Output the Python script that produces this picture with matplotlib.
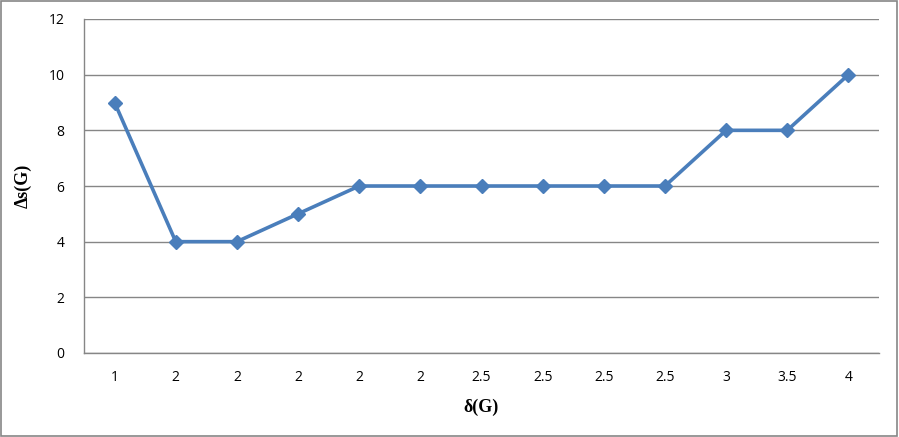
import matplotlib.pyplot as plt
from matplotlib.patches import Rectangle

delta_labels = ['1', '2', '2', '2', '2', '2', '2.5', '2.5', '2.5', '2.5', '3', '3.5', '4']
ds_values = [9, 4, 4, 5, 6, 6, 6, 6, 6, 6, 8, 8, 10]

fig = plt.figure(figsize=(8.99, 4.37), dpi=100)
ax = fig.add_axes([84/899, 1 - 353/437, 795/899, 334/437])

x = range(len(ds_values))
ax.plot(x, ds_values, color='#4a7ebb', lw=2.6, marker='D', ms=7, zorder=3)

ax.set_xlim(-0.5, len(ds_values) - 0.5)
ax.set_ylim(0, 12)
ax.set_yticks(range(0, 13, 2))
ax.set_xticks(list(x))
ax.set_xticklabels(delta_labels)
ax.grid(axis='y', color='#868686', lw=1)
ax.set_axisbelow(True)
for s in ['top', 'right']:
	ax.spines[s].set_visible(False)
for s in ['left', 'bottom']:
	ax.spines[s].set_color('#868686')
	ax.spines[s].set_linewidth(1)
ax.tick_params(length=0, labelsize=10, pad=12)
ax.tick_params(axis='y', pad=14)
for t in ax.get_xticklabels() + ax.get_yticklabels():
	t.set_fontfamily('Open Sans')

ax.set_xlabel('δ(G)', family='Liberation Serif', fontsize=13, fontweight='bold', labelpad=10)
ax.set_ylabel('Δs(G)', family='Liberation Serif', fontsize=13, fontweight='bold', labelpad=12)

fig.patches.append(Rectangle((0.001, 0.002), 0.997, 0.995, transform=fig.transFigure,
	fill=False, edgecolor='#868686', lw=1.2))

fig.savefig('out.png', dpi=100)
